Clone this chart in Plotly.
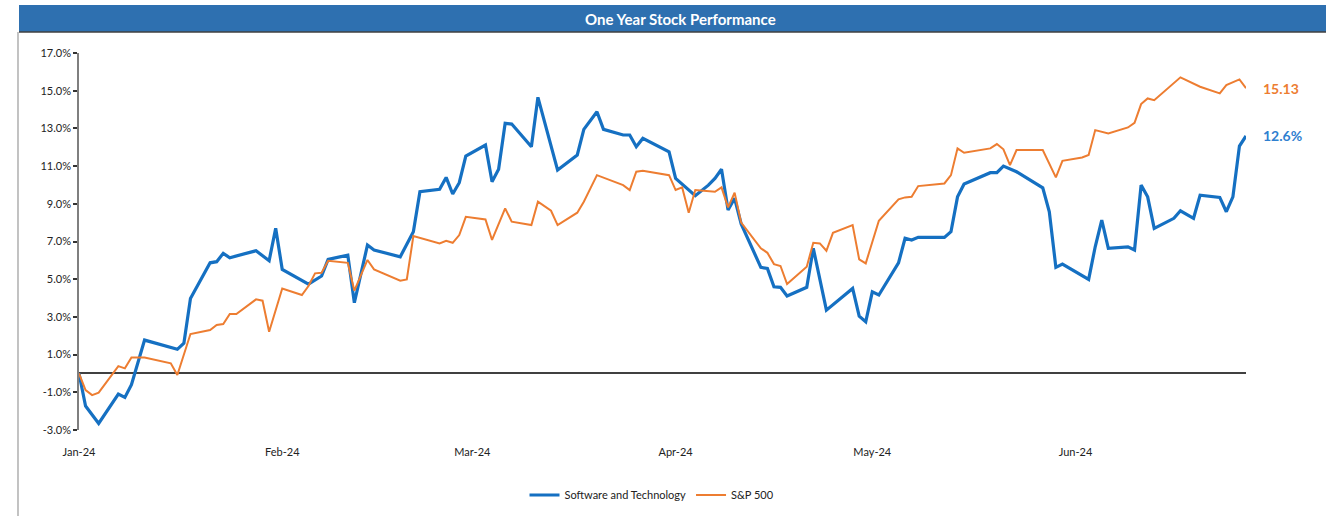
import plotly.graph_objects as go

# ---- data ----
sw_dates = ["2024-01-01","2024-01-02","2024-01-04","2024-01-07","2024-01-08","2024-01-09","2024-01-11",
            "2024-01-16","2024-01-17","2024-01-18","2024-01-21","2024-01-22","2024-01-23","2024-01-24",
            "2024-01-28","2024-01-30","2024-01-31","2024-02-01","2024-02-05","2024-02-07","2024-02-08",
            "2024-02-11","2024-02-12","2024-02-14","2024-02-15","2024-02-19","2024-02-21","2024-02-22",
            "2024-02-25","2024-02-26","2024-02-27","2024-02-28","2024-02-29","2024-03-03","2024-03-04",
            "2024-03-05","2024-03-06","2024-03-07","2024-03-10","2024-03-11","2024-03-14","2024-03-17",
            "2024-03-18","2024-03-20","2024-03-21","2024-03-24","2024-03-25","2024-03-26","2024-03-27",
            "2024-03-31","2024-04-01","2024-04-04","2024-04-06","2024-04-07","2024-04-08","2024-04-09",
            "2024-04-10","2024-04-11","2024-04-14","2024-04-15","2024-04-16","2024-04-17","2024-04-18",
            "2024-04-21","2024-04-22","2024-04-24","2024-04-28","2024-04-29","2024-04-30","2024-05-01",
            "2024-05-02","2024-05-05","2024-05-06","2024-05-07","2024-05-08","2024-05-12","2024-05-13",
            "2024-05-14","2024-05-15","2024-05-19","2024-05-20","2024-05-21","2024-05-23","2024-05-27",
            "2024-05-28","2024-05-29","2024-05-30","2024-06-03","2024-06-04","2024-06-05","2024-06-06",
            "2024-06-09","2024-06-10","2024-06-11","2024-06-12","2024-06-13","2024-06-16","2024-06-17",
            "2024-06-19","2024-06-20","2024-06-23","2024-06-24","2024-06-25","2024-06-26","2024-06-27"]
sw_values = [0.0,-1.73,-2.65,-1.09,-1.27,-0.6,1.77,
             1.28,1.6,3.98,5.87,5.93,6.37,6.14,
             6.51,5.98,7.7,5.52,4.74,5.17,6.05,
             6.28,3.75,6.81,6.55,6.19,7.52,9.64,
             9.77,10.4,9.52,10.12,11.53,12.12,10.17,
             10.83,13.27,13.23,12.03,14.65,10.79,11.59,
             12.95,13.88,12.95,12.65,12.65,12.03,12.47,
             11.76,10.35,9.43,9.99,10.35,10.83,8.67,
             9.29,7.93,5.63,5.57,4.6,4.57,4.11,
             4.57,6.64,3.36,4.51,3.04,2.74,4.33,
             4.16,5.87,7.17,7.08,7.22,7.22,7.52,
             9.37,10.05,10.65,10.65,11.0,10.7,9.85,
             8.58,5.63,5.8,4.99,6.72,8.14,6.64,
             6.72,6.55,9.99,9.37,7.7,8.23,8.63,
             8.23,9.46,9.34,8.58,9.37,12.06,12.6]

sp_dates = ["2024-01-01","2024-01-02","2024-01-03","2024-01-04","2024-01-07","2024-01-08","2024-01-09",
            "2024-01-11","2024-01-15","2024-01-16","2024-01-18","2024-01-21","2024-01-22","2024-01-23",
            "2024-01-24","2024-01-25","2024-01-28","2024-01-29","2024-01-30","2024-02-01","2024-02-04",
            "2024-02-05","2024-02-06","2024-02-07","2024-02-08","2024-02-11","2024-02-12","2024-02-14",
            "2024-02-15","2024-02-17","2024-02-19","2024-02-20","2024-02-21","2024-02-25","2024-02-26",
            "2024-02-27","2024-02-28","2024-02-29","2024-03-03","2024-03-04","2024-03-06","2024-03-07",
            "2024-03-10","2024-03-11","2024-03-13","2024-03-14","2024-03-17","2024-03-18","2024-03-20",
            "2024-03-24","2024-03-25","2024-03-26","2024-03-27","2024-03-31","2024-04-01","2024-04-02",
            "2024-04-03","2024-04-04","2024-04-07","2024-04-08","2024-04-09","2024-04-10","2024-04-11",
            "2024-04-14","2024-04-15","2024-04-16","2024-04-17","2024-04-18","2024-04-21","2024-04-22",
            "2024-04-23","2024-04-24","2024-04-25","2024-04-28","2024-04-29","2024-04-30","2024-05-02",
            "2024-05-05","2024-05-06","2024-05-07","2024-05-08","2024-05-12","2024-05-13","2024-05-14",
            "2024-05-15","2024-05-19","2024-05-20","2024-05-21","2024-05-22","2024-05-23","2024-05-27",
            "2024-05-29","2024-05-30","2024-06-02","2024-06-03","2024-06-04","2024-06-06","2024-06-09",
            "2024-06-10","2024-06-11","2024-06-12","2024-06-13","2024-06-17","2024-06-20","2024-06-23",
            "2024-06-24","2024-06-26","2024-06-27"]
sp_values = [0.0,-0.88,-1.15,-1.02,0.39,0.27,0.85,
             0.85,0.54,-0.08,2.09,2.3,2.57,2.62,
             3.15,3.15,3.93,3.86,2.21,4.51,4.16,
             4.64,5.31,5.34,5.98,5.87,4.39,6.02,
             5.52,5.22,4.92,4.99,7.29,6.9,7.04,
             6.93,7.34,8.31,8.17,7.08,8.76,8.05,
             7.87,9.11,8.63,7.87,8.53,9.11,10.52,
             9.99,9.73,10.7,10.75,10.52,9.73,9.87,
             8.53,9.73,9.64,9.87,8.81,9.59,8.0,
             6.64,6.4,5.8,5.7,4.74,5.66,6.93,
             6.9,6.51,7.46,7.87,6.05,5.84,8.1,
             9.24,9.34,9.37,9.94,10.08,10.52,11.94,
             11.71,11.94,12.17,11.89,11.05,11.85,11.85,
             10.4,11.28,11.46,11.59,12.91,12.73,13.05,
             13.3,14.29,14.59,14.5,15.71,15.21,14.86,
             15.3,15.6,15.13]

month_ticks = ["2024-01-01","2024-02-01","2024-03-01","2024-04-01","2024-05-01","2024-06-01"]
y_ticks = [-3, -1, 1, 3, 5, 7, 9, 11, 13, 15, 17]
y_tick_text = [f"{v:.1f}%" for v in y_ticks]

title_text = "One Year Stock Performance"
sw_name = "Software and Technology"
sp_name = "S&P 500"

BLUE = "#1570C2"
ORANGE = "#ED7D31"
BAR = "#2E70B0"
FONT = "Lato, 'Open Sans', sans-serif"

fig = go.Figure()
fig.add_trace(go.Scatter(x=sw_dates, y=sw_values, mode="lines", name=sw_name,
                         line=dict(color=BLUE, width=3.2)))
fig.add_trace(go.Scatter(x=sp_dates, y=sp_values, mode="lines", name=sp_name,
                         line=dict(color=ORANGE, width=2)))

# geometry helpers (paper coordinates relative to the plot area)
L, R, T, B = 79, 1246, 53, 430
W, H = 1326, 516
def px_x(px): return (px - L) / (R - L)
def px_y(py): return (B - py) / (B - T)

fig.update_layout(
    width=W, height=H,
    margin=dict(l=L, r=W - R, t=T, b=H - B, autoexpand=False),
    paper_bgcolor="white", plot_bgcolor="white",
    font=dict(family=FONT, size=11, color="#222"),
    showlegend=True,
    legend=dict(orientation="h", x=px_x(652), xanchor="center", y=px_y(495), yanchor="middle",
                font=dict(size=11, color="#222"), itemwidth=30, tracegroupgap=0,
                bgcolor="rgba(0,0,0,0)"),
    xaxis=dict(type="date", range=[sw_dates[0], sw_dates[-1]], tickvals=month_ticks,
               tickformat="%b-%y", showgrid=False, showline=False, zeroline=False,
               ticks="", ticklabelstandoff=14, tickfont=dict(size=11, color="#222"),
               fixedrange=True, automargin=False),
    yaxis=dict(range=[-3, 17], tickvals=y_ticks, ticktext=y_tick_text,
               showgrid=False, showline=True, linecolor="#7F7F7F", linewidth=1.5,
               ticks="outside", ticklen=4, tickwidth=1.5, tickcolor="#333",
               zeroline=True, zerolinecolor="#404040", zerolinewidth=1.5,
               tickfont=dict(size=11, color="#222"), fixedrange=True, automargin=False),
    shapes=[
        dict(type="rect", xref="paper", yref="paper", x0=px_x(19), x1=px_x(1330),
             y0=px_y(32), y1=px_y(5), fillcolor=BAR, line=dict(width=0), layer="below"),
        dict(type="line", xref="paper", yref="paper", x0=px_x(19), x1=px_x(1330),
             y0=px_y(32), y1=px_y(32), line=dict(color="#404040", width=1.5)),
        dict(type="line", xref="paper", yref="paper", x0=px_x(18), x1=px_x(18),
             y0=px_y(32), y1=px_y(520), line=dict(color="#9A9A9A", width=1.2)),
    ],
    annotations=[
        dict(text="<b>" + title_text + "</b>", xref="paper", yref="paper", x=px_x(680), y=px_y(19),
             xanchor="center", yanchor="middle", showarrow=False,
             font=dict(family=FONT, size=15, color="white")),
        dict(text="<b>" + f"{sp_values[-1]:.2f}" + "</b>", x=sp_dates[-1], y=sp_values[-1],
             xref="x", yref="y", xanchor="left", yanchor="middle", xshift=15, showarrow=False,
             font=dict(family=FONT, size=14, color=ORANGE)),
        dict(text="<b>" + f"{sw_values[-1]:.1f}%" + "</b>", x=sw_dates[-1], y=sw_values[-1],
             xref="x", yref="y", xanchor="left", yanchor="middle", xshift=15, showarrow=False,
             font=dict(family=FONT, size=14, color="#2F80D0")),
    ],
)

fig.write_html("out.html", config={"displayModeBar": False},
               post_script="document.body.style.margin='0';document.body.style.overflow='hidden';")
